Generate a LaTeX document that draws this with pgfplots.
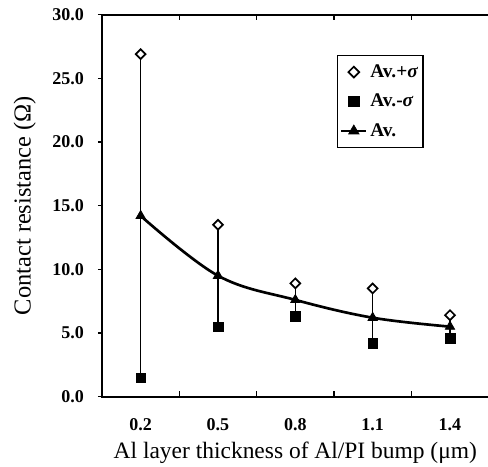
\documentclass[border=0pt]{standalone}
\usepackage{fontspec}
\setmainfont{Liberation Serif}
\usepackage{pgfplots}
\usepackage{pgfplotstable}
\pgfplotsset{compat=1.18}

\pgfplotstableread{
x  hi    lo   av
1  26.9  1.5  14.2
2  13.5  5.5  9.5
3  8.9   6.3  7.6
4  8.5   4.2  6.2
5  6.4   4.6  5.5
}\resdata

% invisible strut pushes the x tick labels down
\newcommand{\xl}[1]{\rule{0pt}{22pt}#1}

\begin{document}
\begin{tikzpicture}
  \begin{axis}[
    name=ax,
    scale only axis,
    width=290pt,
    height=286.5pt,
    xmin=0.5, xmax=5.5,
    ymin=0, ymax=30,
    xtick={1,2,3,4,5},
    xticklabels={\xl{0.2},\xl{0.5},\xl{0.8},\xl{1.1},\xl{1.4}},
    minor xtick={1.5,2.5,3.5,4.5},
    major x tick style={draw=none},
    minor tick length=4pt,
    ytick={0,5,...,30},
    yticklabel style={xshift=-7pt,/pgf/number format/fixed,
      /pgf/number format/fixed zerofill,/pgf/number format/precision=1},
    /pgf/number format/assume math mode=true,
    ticklabel style={font=\bfseries\fontsize{13.5}{14}\selectfont},
    xtick align=inside,
    ytick align=outside,
    major tick length=3pt,
    axis line style={line width=1.6pt},
    every tick/.style={black,line width=0.9pt},
    xlabel={Al layer thickness of Al/PI bump (μm)},
    ylabel={Contact resistance (Ω)},
    xlabel style={font=\fontsize{17.6}{18}\selectfont,
      at={(axis description cs:0.5,-0.148)},anchor=center},
    ylabel style={font=\fontsize{18.3}{19}\selectfont,
      at={(axis description cs:-0.2,0.5)},anchor=center},
    legend cell align=left,
    legend style={at={(0.607,0.895)},anchor=north west,
      font=\bfseries\fontsize{14.5}{15}\selectfont,
      draw=black,line width=0.9pt,row sep=7pt,
      inner xsep=2pt,inner ysep=5pt,
      /tikz/every even column/.append style={column sep=1pt}},
    legend image post style={scale=1.1},
  ]
    % whiskers between low and high values
    \addplot[forget plot,draw=none,
      error bars/.cd,y dir=both,y explicit,error mark=none,
      error bar style={black,line width=0.9pt}]
      table[x=x,y=av,y error plus expr=\thisrow{hi}-\thisrow{av},
            y error minus expr=\thisrow{av}-\thisrow{lo}]{\resdata};
    \addplot[only marks,mark=square*,mark size=2.6pt,
      mark options={fill=white,draw=black,line width=1.3pt,rotate=45}]
      table[x=x,y=hi]{\resdata};
    \addlegendentry{Av.+{\itshape σ}}
    \addplot[only marks,mark=square*,mark size=3.6pt,
      mark options={fill=black,draw=black}]
      table[x=x,y=lo]{\resdata};
    \addlegendentry{Av.-{\itshape σ}}
    \addplot[black,line width=2pt,smooth,tension=0.6,mark=triangle*,
      mark size=4pt,mark options={fill=black,line width=0.6pt}]
      table[x=x,y=av]{\resdata};
    \addlegendentry{Av.}
  \end{axis}
  \pgfresetboundingbox
  \path (ax.south west) ++(-76.5pt,-52.5pt) rectangle ++(366pt,350pt);
\end{tikzpicture}
\end{document}
